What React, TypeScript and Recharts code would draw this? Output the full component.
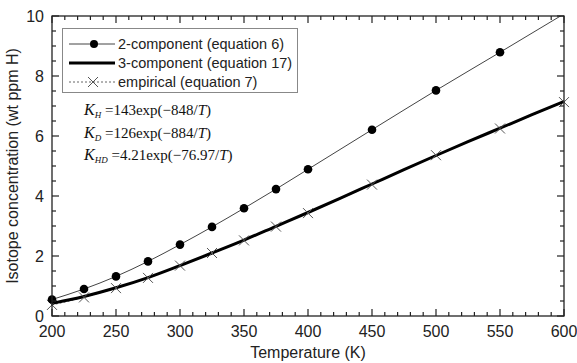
import React from "react";
import { LineChart, Line, XAxis, YAxis } from "recharts";

// temperature grid (K)
const temps = [200, 225, 250, 275, 300, 325, 350, 375, 400, 425, 450, 475, 500, 525, 550, 575, 600];

// 2-component (equation 6) – markers where a value is given
const twoComp = [0.55, 0.9, 1.32, 1.82, 2.38, 2.97, 3.59, 4.23, 4.89, null, 6.21, null, 7.52, null, 8.79, null, 10.07];
// 3-component (equation 17) – thick curve
const threeComp = [0.42, 0.65, 0.94, 1.28, 1.68, 2.1, 2.53, 2.99, 3.45, 3.92, 4.4, 4.88, 5.35, 5.81, 6.26, 6.71, 7.15];
// empirical (equation 7)
const empirical = [0.37, 0.62, 0.93, 1.27, 1.68, 2.1, 2.52, 2.98, 3.43, null, 4.38, null, 5.36, null, 6.25, null, 7.13];

// tick positions (minor every 10 K / 0.5 wt ppm)
const xTicks = Array.from({ length: 41 }, (_, i) => 200 + i * 10);
const yTicks = Array.from({ length: 21 }, (_, i) => i * 0.5);

const data = temps.map((t, i) => ({
  t,
  two: twoComp[i],
  three: threeComp[i],
  emp: empirical[i],
}));

const SANS = "Liberation Sans, Arial, sans-serif";
const SERIF = "'Liberation Serif', 'Times New Roman', serif";
const AX = "#222";

// plot box (matches chart margins + axis sizes below)
const W = 577;
const H = 363;
const M = { top: 16, right: 13, bottom: 0, left: 0 };
const X_AXIS_H = 47;
const Y_AXIS_W = 52;
const PL = M.left + Y_AXIS_W;
const PR = W - M.right;
const PT = M.top;
const PB = H - M.bottom - X_AXIS_H;
const sx = (v: number) => PL + ((v - 200) / 400) * (PR - PL);
const sy = (v: number) => PB - (v / 10) * (PB - PT);

const BottomTick = (p: any) => {
  const v = p.payload.value;
  if (v % 50 !== 0) return <g />;
  return (
    <text x={p.x} y={p.y + 21} textAnchor="middle" fontSize={16} fontFamily={SANS} fill={AX}>
      {v}
    </text>
  );
};

const LeftTick = (p: any) => {
  const v = p.payload.value;
  if (v % 2 !== 0) return <g />;
  return (
    <text x={p.x - 8} y={p.y + 5.7} textAnchor="end" fontSize={16} fontFamily={SANS} fill={AX}>
      {v}
    </text>
  );
};

const CircleDot = (p: any) => {
  if (p.value == null || p.cy == null || p.payload.t === 600) return <g key={p.index} />;
  return <circle key={p.index} cx={p.cx} cy={p.cy} r={4.3} fill="#000" />;
};

const CrossDot = (p: any) => {
  if (p.value == null || p.cy == null) return <g key={p.index} />;
  const s = 5;
  return (
    <g key={p.index}>
      <line x1={p.cx - s} y1={p.cy - s} x2={p.cx + s} y2={p.cy + s} stroke="#555" />
      <line x1={p.cx - s} y1={p.cy + s} x2={p.cx + s} y2={p.cy - s} stroke="#555" />
    </g>
  );
};

// frame with inward ticks on all four sides
function Frame() {
  return (
    <svg width={W} height={H} style={{ position: "absolute", left: 0, top: 0, pointerEvents: "none" }}>
      <rect x={PL} y={PT} width={PR - PL} height={PB - PT} fill="none" stroke={AX} strokeWidth={1.3} />
      {xTicks.map((v) => {
        const len = v % 50 === 0 ? 7 : 4;
        return (
          <g key={`x${v}`} stroke={AX} strokeWidth={1.2}>
            <line x1={sx(v)} y1={PB} x2={sx(v)} y2={PB - len} />
            <line x1={sx(v)} y1={PT} x2={sx(v)} y2={PT + len} />
          </g>
        );
      })}
      {yTicks.map((v) => {
        const len = v % 2 === 0 ? 7 : 4;
        return (
          <g key={`y${v}`} stroke={AX} strokeWidth={1.2}>
            <line x1={PL} y1={sy(v)} x2={PL + len} y2={sy(v)} />
            <line x1={PR} y1={sy(v)} x2={PR - len} y2={sy(v)} />
          </g>
        );
      })}
    </svg>
  );
}

const legendRows = [
  { label: "2-component (equation 6)", kind: "dot" },
  { label: "3-component (equation 17)", kind: "thick" },
  { label: "empirical (equation 7)", kind: "cross" },
];

function Swatch({ kind }: { kind: string }) {
  return (
    <svg width={48} height={14} style={{ display: "block" }}>
      {kind === "dot" && (
        <>
          <line x1={0} y1={7} x2={46} y2={7} stroke="#444" strokeWidth={1} />
          <circle cx={25} cy={7} r={4} fill="#000" />
        </>
      )}
      {kind === "thick" && <line x1={0} y1={7} x2={46} y2={7} stroke="#000" strokeWidth={3} />}
      {kind === "cross" && (
        <>
          <line x1={0} y1={7} x2={46} y2={7} stroke="#666" strokeWidth={1} strokeDasharray="2 2" />
          <line x1={19} y1={2} x2={29} y2={12} stroke="#555" />
          <line x1={19} y1={12} x2={29} y2={2} stroke="#555" />
        </>
      )}
    </svg>
  );
}

const equations = [
  { sub: "H", coef: "143", arg: "848" },
  { sub: "D", coef: "126", arg: "884" },
  { sub: "HD", coef: "4.21", arg: "76.97" },
];

export default function App() {
  return (
    <div style={{ position: "absolute", left: 0, top: 0, width: W, height: H, background: "#fff" }}>
      <LineChart width={W} height={H} data={data} margin={M}>
        <XAxis
          dataKey="t"
          type="number"
          domain={[200, 600]}
          ticks={xTicks}
          interval={0}
          height={X_AXIS_H}
          tickSize={0}
          tickMargin={0}
          tickLine={false}
          tick={BottomTick}
          axisLine={false}
          label={{ value: "Temperature (K)", position: "insideBottom", offset: 5.5, fontSize: 16, fontFamily: SANS, fill: AX }}
        />
        <YAxis
          type="number"
          domain={[0, 10]}
          allowDataOverflow
          ticks={yTicks}
          interval={0}
          width={Y_AXIS_W}
          tickSize={0}
          tickMargin={0}
          tickLine={false}
          tick={LeftTick}
          axisLine={false}
          label={{
            value: "Isotope concentration (wt ppm H)",
            angle: -90,
            position: "center",
            dx: -14,
            fontSize: 16,
            fontFamily: SANS,
            fill: AX,
          }}
        />
        <Line
          type="monotone"
          dataKey="emp"
          stroke="#666"
          strokeWidth={1}
          strokeDasharray="2 2"
          connectNulls
          dot={CrossDot}
          isAnimationActive={false}
        />
        <Line type="monotone" dataKey="three" stroke="#000" strokeWidth={3} dot={false} isAnimationActive={false} />
        <Line
          type="monotone"
          dataKey="two"
          stroke="#444"
          strokeWidth={1}
          connectNulls
          dot={CircleDot}
          isAnimationActive={false}
        />
      </LineChart>

      <Frame />

      <div
        style={{
          position: "absolute",
          left: 62,
          top: 28,
          width: 236,
          height: 65,
          border: "1px solid #888",
          background: "#fff",
          fontFamily: SANS,
          fontSize: 14.5,
          color: AX,
          boxSizing: "border-box",
          paddingTop: 5,
        }}
      >
        {legendRows.map((r) => (
          <div key={r.label} style={{ display: "flex", alignItems: "center", height: 19, paddingLeft: 6 }}>
            <Swatch kind={r.kind} />
            <span style={{ marginLeft: 1, whiteSpace: "nowrap" }}>{r.label}</span>
          </div>
        ))}
      </div>

      <div style={{ position: "absolute", left: 84, top: 99, fontFamily: SERIF, fontSize: 15, color: "#111" }}>
        {equations.map((e) => (
          <div key={e.sub} style={{ height: 22.5, lineHeight: "22.5px", whiteSpace: "nowrap" }}>
            <i style={{ fontSize: 16 }}>K</i>
            <i style={{ fontSize: 9, position: "relative", top: 3 }}>{e.sub}</i>
            {" ="}
            {e.coef}exp(−{e.arg}/<i>T</i>)
          </div>
        ))}
      </div>
    </div>
  );
}
